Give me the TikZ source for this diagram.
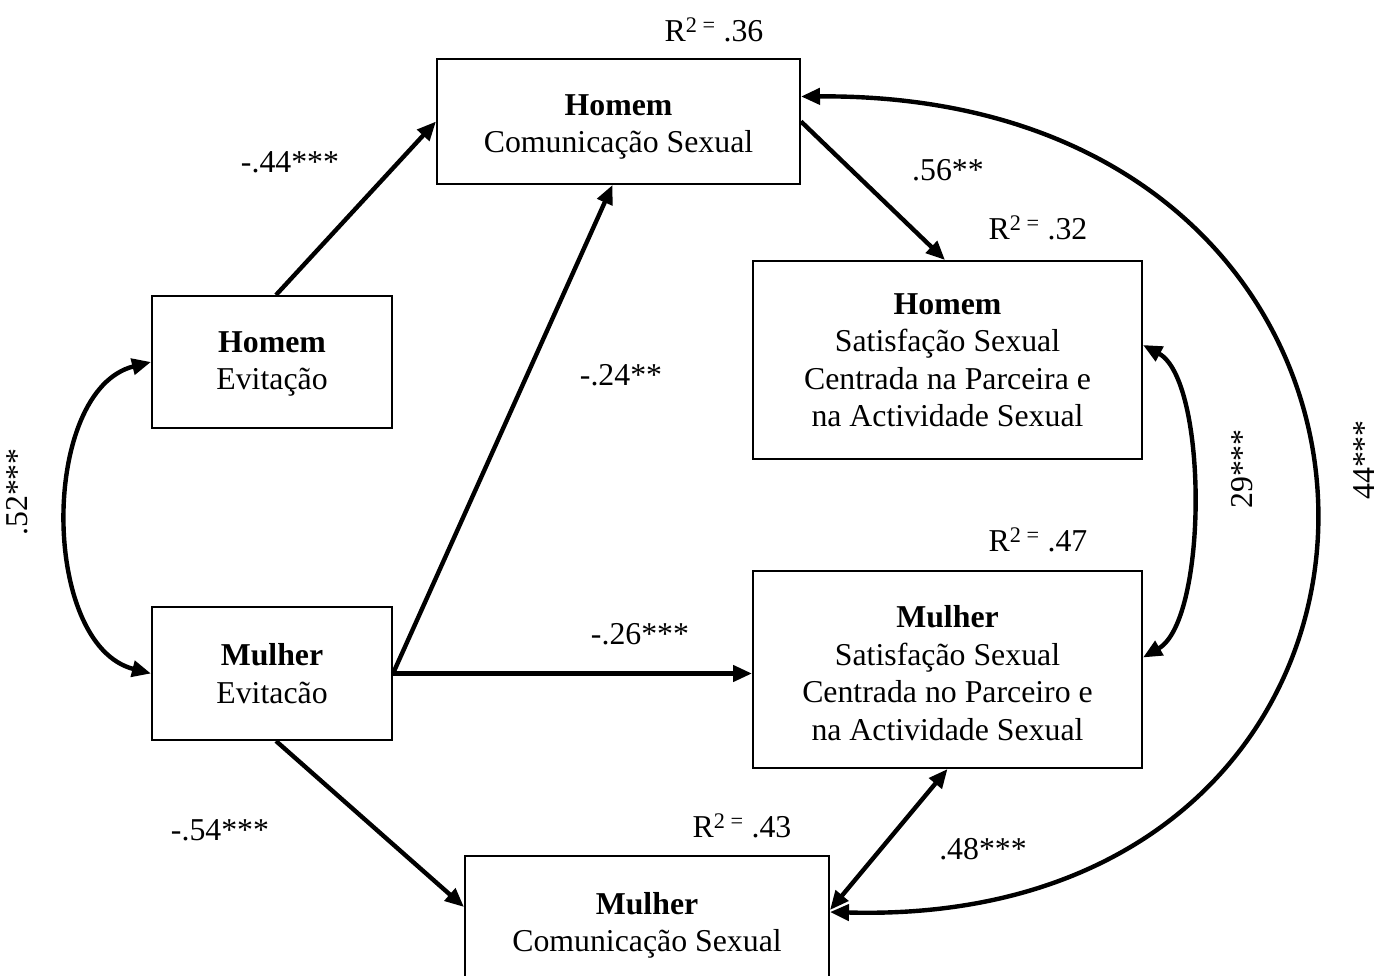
\documentclass[tikz,border=0pt]{standalone}
\usepackage{fontspec}
\setmainfont{Liberation Serif}
\usetikzlibrary{arrows.meta,calc}
\newcommand{\toppad}[1]{\rule{0pt}{#1}}
\begin{document}
\begin{tikzpicture}[x=1pt,y=-1pt,
  every node/.style={font=\fontsize{31.8}{37.5}\selectfont},
  varbox/.style={draw, line width=2pt, inner sep=0pt, align=center},
  link/.style={line width=4.4pt, -{Triangle[length=19pt,width=16pt]}},
  twoway/.style={line width=4.4pt, {Triangle[length=19pt,width=16pt]}-{Triangle[length=19pt,width=16pt]}},
  coef/.style={inner sep=0pt},
  rsq/.style={inner sep=0pt}
]
\path[use as bounding box] (0,0) rectangle (1385,976);
\clip (0,0) rectangle (1385,976);

% variables
\node[varbox, minimum width=363pt, minimum height=125pt] (hc) at (618.5,121.5)
  {\toppad{32pt}\textbf{Homem}\\Comunicação Sexual};
\node[varbox, minimum width=240pt, minimum height=132pt] (he) at (272,362)
  {\toppad{25pt}\textbf{Homem}\\Evitação};
\node[varbox, minimum width=389pt, minimum height=198pt] (hs) at (947.5,360)
  {\textbf{Homem}\\Satisfação Sexual\\Centrada na Parceira e\\na Actividade Sexual};
\node[varbox, minimum width=240pt, minimum height=133pt] (me) at (272,673.5)
  {\textbf{Mulher}\\Evitacão};
\node[varbox, minimum width=389pt, minimum height=197pt] (ms) at (947.5,669.5)
  {\toppad{29pt}\textbf{Mulher}\\Satisfação Sexual\\Centrada no Parceiro e\\na Actividade Sexual};
\node[varbox, minimum width=364pt, minimum height=132pt] (mc) at (647,922)
  {\toppad{29pt}\textbf{Mulher}\\Comunicação Sexual};

% explained variance
\node[rsq] (r1) at (714,30) {R\textsuperscript{2 =} .36};
\node[rsq] (r2) at (1038,228) {R\textsuperscript{2 =} .32};
\node[rsq] (r3) at (1038,540) {R\textsuperscript{2 =} .47};
\node[rsq] (r4) at (742,826) {R\textsuperscript{2 =} .43};

% directional paths
\draw[link] ([xshift=4pt]he.north) -- (hc.west);
\draw[link] (me.east) -- ([xshift=-6pt]hc.south);
\draw[link] (me.east) -- (me.east -| ms.west);
\draw[link] ([xshift=4pt]me.south) -- ([yshift=15pt]mc.west);
\draw[link] (hc.east) -- ([xshift=-2.5pt]hs.north);

% covariances
\draw[twoway] ([yshift=12pt]mc.east) -- (ms.south);
\draw[twoway] ([yshift=25pt]hc.east) .. controls (1480,92) and (1480,930) .. ([yshift=10pt]mc.east);
\draw[twoway] ([yshift=15pt]hs.east) .. controls (1208,380) and (1208,620) .. ([yshift=12pt]ms.east);
\draw[twoway] (he.west) .. controls (40,390) and (40,645) .. (me.west);

% coefficients
\node[coef] (c1) at (290,162) {-.44***};
\node[coef] (c2) at (621,375) {-.24**};
\node[coef] (c3) at (948,170) {.56**};
\node[coef] (c4) at (640,634) {-.26***};
\node[coef] (c5) at (220,830) {-.54***};
\node[coef] (c6) at (983,849) {.48***};
\node[coef, rotate=90] (c7) at (17,492) {.52***};
\node[coef, rotate=90] (c8) at (1242,469) {29***};
\node[coef, rotate=90] (c9) at (1364,460) {44***};
\end{tikzpicture}
\end{document}
